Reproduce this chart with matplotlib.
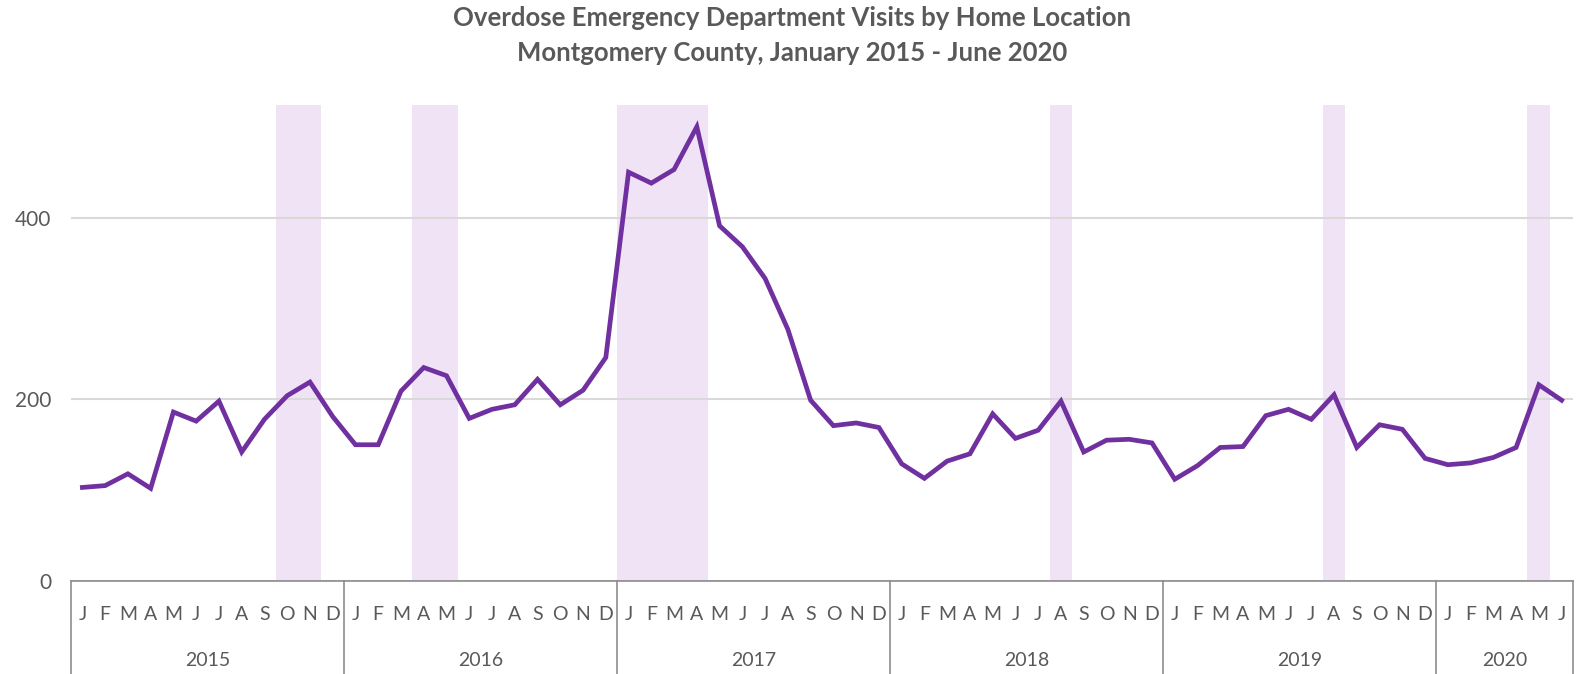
import numpy as np
import matplotlib.pyplot as plt
from matplotlib.transforms import blended_transform_factory

# monthly overdose ED visits, Jan 2015 - Jun 2020
years = ["2015", "2016", "2017", "2018", "2019", "2020"]
month_letters = ["J", "F", "M", "A", "M", "J", "J", "A", "S", "O", "N", "D"]
month_names = ["Jan", "Feb", "Mar", "Apr", "May", "Jun",
               "Jul", "Aug", "Sep", "Oct", "Nov", "Dec"]

visits_2015 = [103, 105, 118, 102, 186, 176, 198, 142, 178, 204, 219, 181]
visits_2016 = [150, 150, 209, 235, 226, 179, 189, 194, 222, 194, 210, 246]
visits_2017 = [450, 438, 453, 500, 391, 368, 333, 277, 199, 171, 174, 169]
visits_2018 = [129, 113, 132, 140, 184, 157, 166, 198, 142, 155, 156, 152]
visits_2019 = [112, 127, 147, 148, 182, 189, 178, 205, 147, 172, 167, 135]
visits_2020 = [128, 130, 136, 147, 216, 199]

# shaded periods (first month, last month)
highlight_periods = [("Oct 2015", "Nov 2015"), ("Apr 2016", "May 2016"),
                     ("Jan 2017", "Apr 2017"), ("Aug 2018", "Aug 2018"),
                     ("Aug 2019", "Aug 2019"), ("May 2020", "May 2020")]

visits = visits_2015 + visits_2016 + visits_2017 + visits_2018 + visits_2019 + visits_2020
labels = []
letters = []
year_of = []
for y in years:
    for m in range(12):
        if len(labels) < len(visits):
            labels.append(month_names[m] + " " + y)
            letters.append(month_letters[m])
            year_of.append(y)
x = np.arange(len(visits))

plt.rcParams['font.family'] = ['Lato', 'DejaVu Sans']
text_col = "#595959"

fig = plt.figure(figsize=(15.81, 6.74), dpi=100)
ax = fig.add_axes([71 / 1581, 1 - 581 / 674, 1502 / 1581, 476 / 674])

for start, end in highlight_periods:
    i0, i1 = labels.index(start), labels.index(end)
    ax.axvspan(i0 - 0.5, i1 + 0.5, color="#EFE3F5", lw=0, zorder=0)

ax.plot(x, visits, color="#7030A0", lw=3.4, solid_joinstyle="miter", zorder=3)

ax.set_xlim(-0.5, len(visits) - 0.5)
ax.set_ylim(0, 524)
ax.set_yticks([0, 200, 400])
ax.yaxis.grid(True, color="#D9D9D9", lw=1.5, zorder=1)
ax.set_axisbelow(True)
for s in ["top", "right", "left"]:
    ax.spines[s].set_visible(False)
ax.spines["bottom"].set_color("#8C8C8C")
ax.spines["bottom"].set_linewidth(1.2)
ax.tick_params(axis="y", length=0, pad=14, labelsize=15, labelcolor=text_col)
ax.set_xticks(x)
ax.set_xticklabels(letters)
ax.tick_params(axis="x", length=0, pad=18, labelsize=14, labelcolor=text_col)

# year groups under the month letters
trans = blended_transform_factory(ax.transData, ax.transAxes)
bounds = [-0.5]
for i in range(1, len(visits)):
    if year_of[i] != year_of[i - 1]:
        bounds.append(i - 0.5)
bounds.append(len(visits) - 0.5)
for b in bounds:
    ax.plot([b, b], [0, -0.25], color="#8C8C8C", lw=1.2, transform=trans, clip_on=False)
for k, y in enumerate(years):
    ax.text((bounds[k] + bounds[k + 1]) / 2, -0.166, y, transform=trans,
            ha="center", va="center", fontsize=14, color=text_col)

fig.text(0.501, 1 - 18 / 674, "Overdose Emergency Department Visits by Home Location",
         ha="center", va="center", fontsize=18.5, fontweight="bold", color=text_col)
fig.text(0.501, 1 - 53 / 674, "Montgomery County, January 2015 - June 2020",
         ha="center", va="center", fontsize=18.5, fontweight="bold", color=text_col)

fig.savefig("out.png", dpi=100)
